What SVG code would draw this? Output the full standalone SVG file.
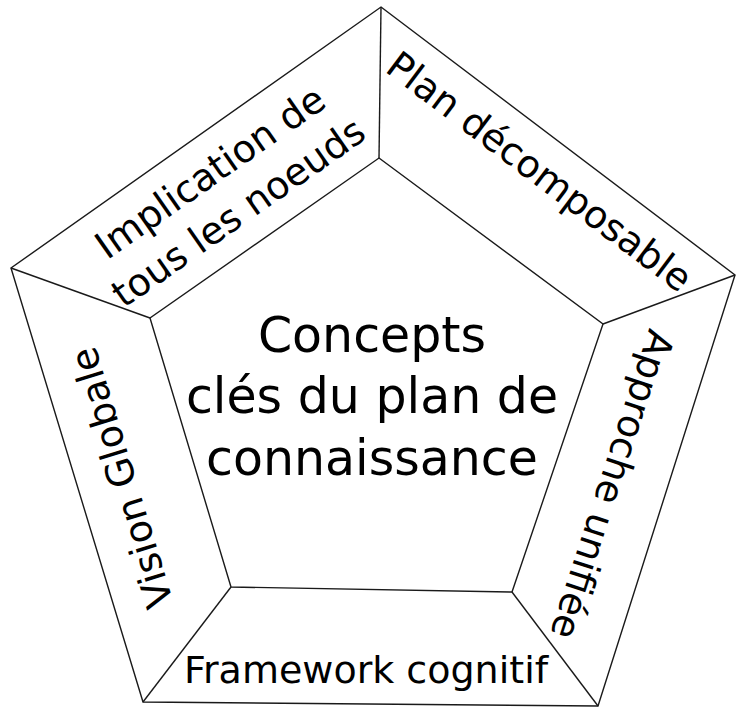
<svg xmlns="http://www.w3.org/2000/svg" width="736" height="708" viewBox="0 0 736 708">
  <style>
    .edge { fill: none; stroke: #1a1a1a; stroke-width: 1.4; stroke-linejoin: miter; }
    .lbl { font-family: "DejaVu Sans", "Liberation Sans", sans-serif; font-size: 38px; fill: #000; text-anchor: middle; }
    .center { font-family: "DejaVu Sans", "Liberation Sans", sans-serif; font-size: 49px; fill: #000; text-anchor: middle; }
  </style>
  <rect width="736" height="708" fill="#fff"/>
  <g id="connectors">
    <polygon class="edge" points="381,7 735,275 598,706 143,702 11,268"/>
    <polygon class="edge" points="379,158 603,324 512,592 231,587 150,318"/>
    <line class="edge" x1="381" y1="7" x2="379" y2="158"/>
    <line class="edge" x1="735" y1="275" x2="603" y2="324"/>
    <line class="edge" x1="598" y1="706" x2="512" y2="592"/>
    <line class="edge" x1="143" y1="702" x2="231" y2="587"/>
    <line class="edge" x1="11" y1="268" x2="150" y2="318"/>
  </g>
  <g id="center">
    <text class="center" x="372" y="352">Concepts</text>
    <text class="center" x="372" y="413">clés du plan de</text>
    <text class="center" x="372" y="475">connaissance</text>
  </g>
  <g id="implication" transform="translate(224,192) rotate(-35)">
    <text class="lbl" x="0" y="-11">Implication de</text>
    <text class="lbl" x="0" y="38">tous les noeuds</text>
  </g>
  <g id="plan" transform="translate(540,171) rotate(37)">
    <text class="lbl" x="0" y="14">Plan décomposable</text>
  </g>
  <g id="approche" transform="translate(613,485) rotate(108)">
    <text class="lbl" x="0" y="14">Approche unifiée</text>
  </g>
  <g id="framework">
    <text class="lbl" x="366" y="683">Framework cognitif</text>
  </g>
  <g id="vision" transform="translate(121,478) rotate(-107)">
    <text class="lbl" x="0" y="14">Vision Globale</text>
  </g>
</svg>
